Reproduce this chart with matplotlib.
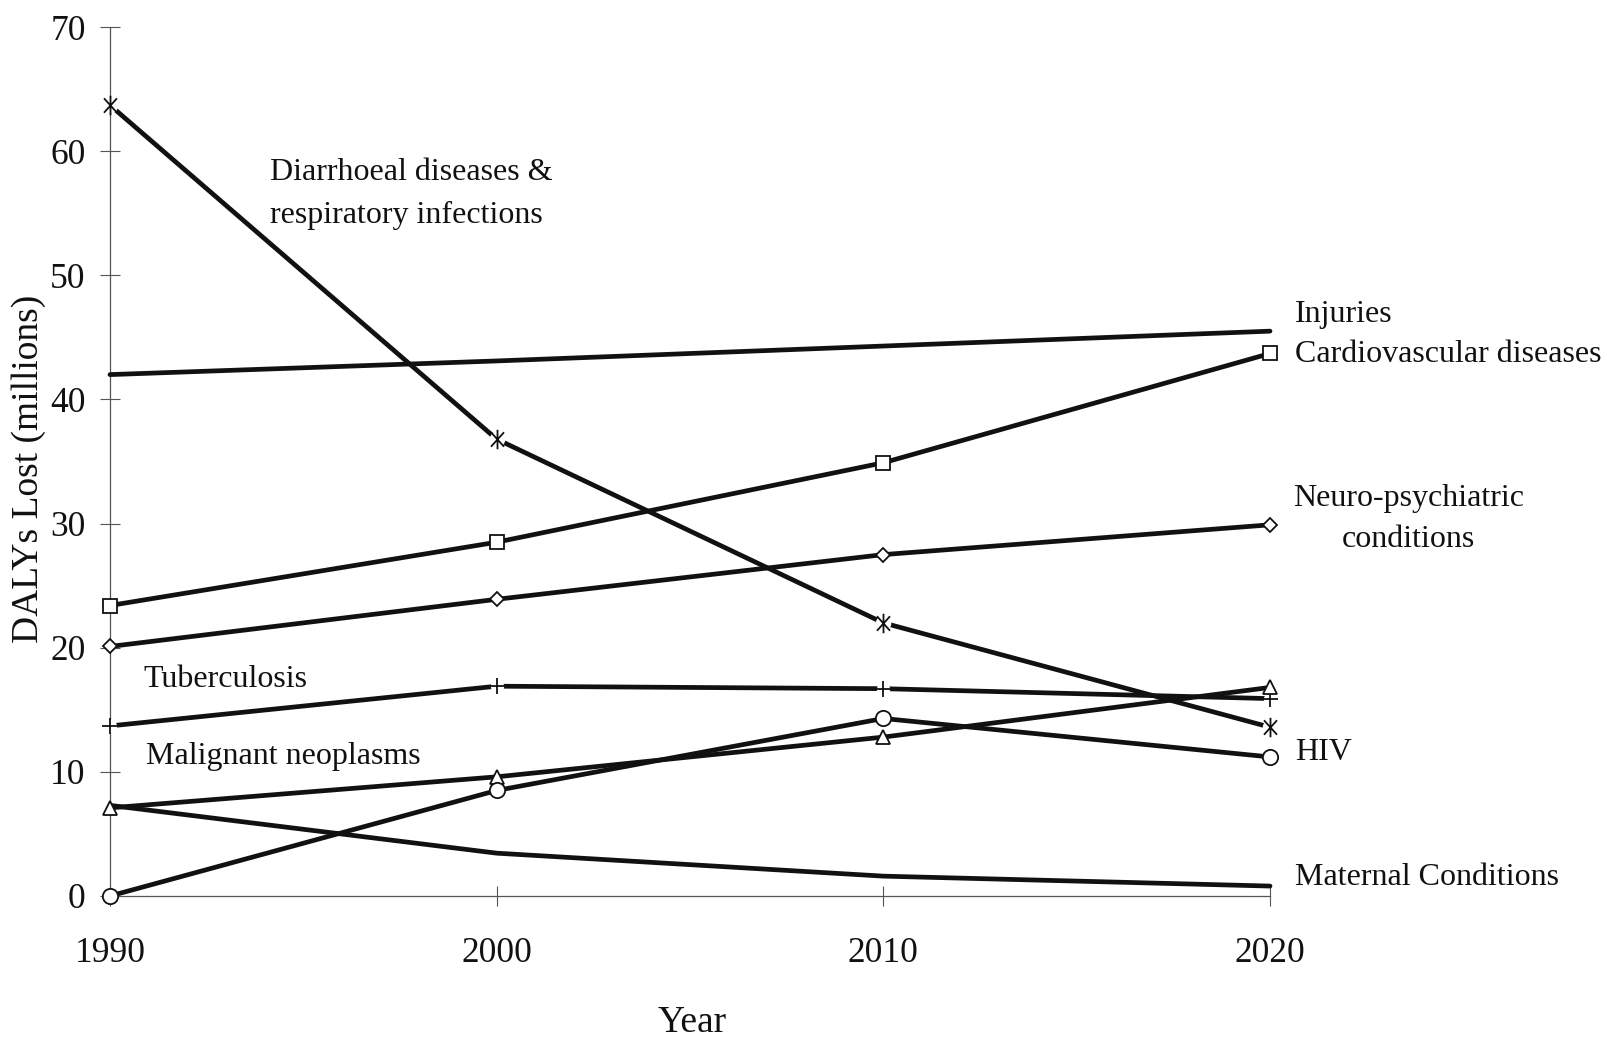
import matplotlib
matplotlib.use("Agg")
import matplotlib.pyplot as plt
from matplotlib.path import Path
import numpy as np

# Burden of disease, DALYs lost (millions)
years = [1990, 2000, 2010, 2020]

diarrhoeal = [63.7, 36.8, 22.0, 13.6]
injuries = [42.0, 43.1, 44.3, 45.5]
cardiovascular = [23.4, 28.5, 34.9, 43.7]
neuropsychiatric = [20.1, 23.9, 27.5, 29.9]
tuberculosis = [13.7, 16.9, 16.7, 15.9]
neoplasms = [7.1, 9.6, 12.8, 16.8]
hiv = [0.0, 8.5, 14.3, 11.2]
maternal = [7.3, 3.45, 1.6, 0.8]

y_ticks = [0, 10, 20, 30, 40, 50, 60, 70]

INK = "#111111"
FONT = "Liberation Serif"
plt.rcParams["font.family"] = [FONT, "DejaVu Serif"]

fig = plt.figure(figsize=(16.08, 10.40), dpi=100)
W, H = 1608, 1040
left, right, bottom, top = 110, 1270, 896, 27
ax = fig.add_axes([left / W, 1 - bottom / H, (right - left) / W, (bottom - top) / H])

ax.set_xlim(1990, 2020)
ax.set_ylim(0, 70)

LW = 3.4
MEW = 1.3

# asterisk: a vertical stroke crossed by an X
ang = np.deg2rad(48)
dx, dy = np.cos(ang), np.sin(ang)
asterisk = Path(
    [(0, -1), (0, 1), (-dx, -dy), (dx, dy), (-dx, dy), (dx, -dy)],
    [Path.MOVETO, Path.LINETO, Path.MOVETO, Path.LINETO, Path.MOVETO, Path.LINETO],
)


def series(values, marker=None, ms=10, gap=False):
    ax.plot(years, values, color=INK, lw=LW, solid_joinstyle="round",
            solid_capstyle="round", zorder=3, clip_on=False)
    if marker is None:
        return
    if gap:
        # small white patch so the line breaks around open markers
        ax.plot(years, values, linestyle="none", marker="o", ms=ms * 0.8,
                mfc="white", mec="none", zorder=4, clip_on=False)
        ax.plot(years, values, linestyle="none", marker=marker, ms=ms,
                mec=INK, mew=MEW, zorder=5, clip_on=False)
    else:
        ax.plot(years, values, linestyle="none", marker=marker, ms=ms,
                mfc="white", mec=INK, mew=MEW, zorder=5, clip_on=False)


series(injuries)
series(maternal)
series(diarrhoeal, marker=asterisk, ms=14, gap=True)
series(cardiovascular, marker="s", ms=9.5)
series(neuropsychiatric, marker="D", ms=7.5)
series(tuberculosis, marker="+", ms=12, gap=True)
series(neoplasms, marker="^", ms=10)
series(hiv, marker="o", ms=11)

# axes styling
for side in ("top", "right"):
    ax.spines[side].set_visible(False)
for side in ("left", "bottom"):
    ax.spines[side].set_color("#555555")
    ax.spines[side].set_linewidth(0.9)

ax.set_xticks(years)
ax.set_yticks(y_ticks)
ax.set_xticklabels([str(y) for y in years])
ax.set_yticklabels([str(v) for v in y_ticks])
ax.tick_params(axis="both", direction="inout", length=15, width=0.8,
               color="#555555", labelcolor=INK)
ax.tick_params(axis="x", pad=22, labelsize=25.5)
ax.tick_params(axis="y", pad=10, labelsize=25.5)

ax.set_xlabel("Year", fontsize=27, color=INK)
ax.set_ylabel("DALYs Lost (millions)", fontsize=27, color=INK)
ax.xaxis.label.set_va("center")
ax.yaxis.label.set_va("center")
ax.xaxis.set_label_coords((692 - left) / (right - left), (bottom - 1023) / (bottom - top))
ax.yaxis.set_label_coords((28.7 - left) / (right - left), (bottom - 468.7) / (bottom - top))

# series labels
LS = 23
label_kw = dict(fontsize=LS, color=INK, va="baseline", clip_on=False)
ax.text(1994.14, 57.7, "Diarrhoeal diseases &", ha="left", **label_kw)
ax.text(1994.14, 54.2, "respiratory infections", ha="left", **label_kw)
ax.text(2020.65, 46.2, "Injuries", ha="left", **label_kw)
ax.text(2020.65, 43.0, "Cardiovascular diseases", ha="left", **label_kw)
ax.text(2023.59, 31.45, "Neuro-psychiatric", ha="center", **label_kw)
ax.text(2023.59, 28.15, "conditions", ha="center", **label_kw)
ax.text(1990.87, 16.85, "Tuberculosis", ha="left", **label_kw)
ax.text(1990.92, 10.65, "Malignant neoplasms", ha="left", **label_kw)
ax.text(2020.65, 10.95, "HIV", ha="left", **label_kw)
ax.text(2020.65, 0.85, "Maternal Conditions", ha="left", **label_kw)

fig.savefig("out.png", dpi=100, facecolor="white")
